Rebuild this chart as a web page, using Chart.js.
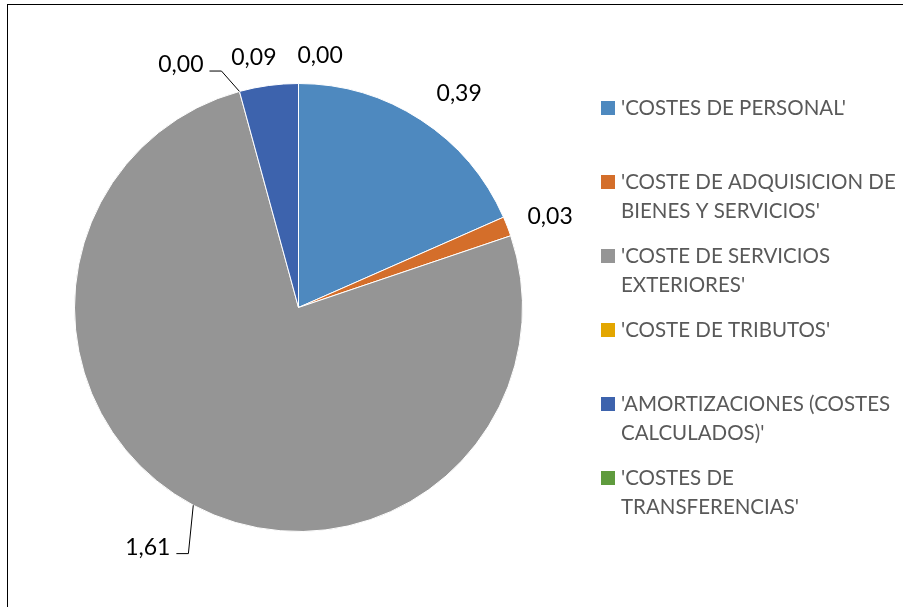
<!DOCTYPE html>
<html>
<head>
<meta charset="utf-8">
<title>Costes</title>
<script src="https://cdn.jsdelivr.net/npm/chart.js@4.4.0/dist/chart.umd.min.js"></script>
<style>
  html, body { margin: 0; padding: 0; background: #fff; }
  #wrap { position: relative; width: 903px; height: 607px; overflow: hidden; }
  #frame { position: absolute; left: 7px; top: 4px; width: 1000px; height: 1000px;
           border-left: 1px solid #000; border-top: 1px solid #000; }
  #costChart { position: absolute; left: 0; top: 0; }
</style>
</head>
<body>
<div id="wrap">
  <div id="frame"></div>
  <canvas id="costChart" width="903" height="607"></canvas>
</div>
<script>
// categories (legend text, already split into lines like the original)
const categories = [
    ["'COSTES DE PERSONAL'"],
    ["'COSTE DE ADQUISICION DE", "BIENES Y SERVICIOS'"],
    ["'COSTE DE SERVICIOS", "EXTERIORES'"],
    ["'COSTE DE TRIBUTOS'"],
    ["'AMORTIZACIONES (COSTES", "CALCULADOS)'"],
    ["'COSTES DE", "TRANSFERENCIAS'"]
];
const costValues = [0.39, 0.03, 1.61, 0.00, 0.09, 0.00];
const sliceColors = ['#4E89BF', '#D46E2A', '#959595', '#E3A600', '#3D63AD', '#5F9B3D'];

// where each value label sits: [angle shift in degrees, distance beyond the rim, leader line]
const labelPlacement = [
    [3.8, 43.5, false],
    [1.4, 43.5, false],
    [4.1, 59.5, true],
    [-10.6, 45.5, true],
    [-2.5, 29.5, false],
    [4.9, 29, false]
];

const fmt = v => v.toFixed(2).replace('.', ',');

const valueLabels = {
    id: 'valueLabels',
    afterDatasetsDraw(chart) {
        const ctx = chart.ctx;
        const meta = chart.getDatasetMeta(0);
        ctx.save();
        ctx.font = '23px Lato';
        ctx.fillStyle = '#000';
        ctx.textAlign = 'center';
        ctx.textBaseline = 'middle';
        meta.data.forEach((arc, i) => {
            const p = arc.getProps(['x', 'y', 'startAngle', 'endAngle', 'outerRadius'], true);
            const mid = (p.startAngle + p.endAngle) / 2;
            const [dDeg, extra, leader] = labelPlacement[i];
            const a = mid + dDeg * Math.PI / 180;
            const lx = p.x + Math.cos(a) * (p.outerRadius + extra);
            const ly = p.y + Math.sin(a) * (p.outerRadius + extra);
            const text = fmt(costValues[i]);
            ctx.fillText(text, lx, ly);
            if (leader) {
                const w = ctx.measureText(text).width;
                const ex = p.x + Math.cos(mid) * p.outerRadius;
                const ey = p.y + Math.sin(mid) * p.outerRadius;
                const hx1 = lx + w / 2 + 6;
                const hx2 = hx1 + 12;
                const hy = ly + 6;
                ctx.beginPath();
                ctx.strokeStyle = '#000';
                ctx.lineWidth = 1;
                ctx.moveTo(hx1, hy);
                ctx.lineTo(hx2, hy);
                ctx.lineTo(ex, ey);
                ctx.stroke();
            }
        });
        ctx.restore();
    }
};

const sideLegend = {
    id: 'sideLegend',
    afterDraw(chart, args, opts) {
        const ctx = chart.ctx;
        ctx.save();
        ctx.font = '20.5px Lato';
        ctx.textAlign = 'left';
        ctx.textBaseline = 'middle';
        categories.forEach((lines, i) => {
            const y = opts.top + i * opts.step;
            ctx.fillStyle = sliceColors[i];
            ctx.fillRect(opts.x, y - opts.box / 2, opts.box, opts.box);
            ctx.fillStyle = '#595959';
            lines.forEach((ln, j) => {
                ctx.fillText(ln, opts.x + opts.box + 6, y + j * opts.lineHeight);
            });
        });
        ctx.restore();
    }
};

new Chart(document.getElementById('costChart'), {
    type: 'pie',
    data: {
        labels: categories.map(l => l.join(' ')),
        datasets: [{
            data: costValues,
            backgroundColor: sliceColors,
            borderColor: '#fff',
            borderWidth: 1
        }]
    },
    options: {
        responsive: false,
        animation: false,
        layout: {
            padding: { left: 74, right: 380, top: 83, bottom: 75 }
        },
        plugins: {
            legend: { display: false },
            tooltip: { enabled: false },
            sideLegend: { x: 601, top: 108, step: 74, lineHeight: 29.5, box: 14 }
        }
    },
    plugins: [valueLabels, sideLegend]
});
</script>
</body>
</html>
